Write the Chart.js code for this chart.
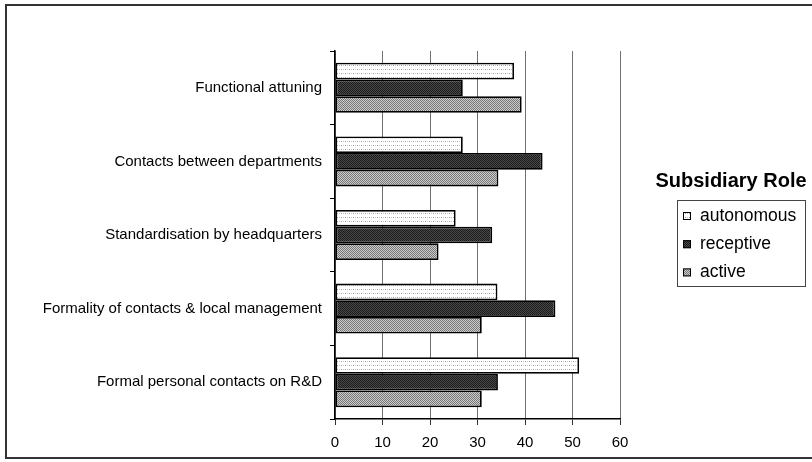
<!DOCTYPE html>
<html>
<head>
<meta charset="utf-8">
<script src="https://cdn.jsdelivr.net/npm/chart.js@4/dist/chart.umd.min.js"></script>
<style>
  html, body { margin: 0; padding: 0; background: #fff; }
  #wrap { position: relative; width: 812px; height: 462px; }
  #frame { position: absolute; left: 5px; top: 4px; width: 820px; height: 455px; border: 2px solid #333; box-sizing: border-box; pointer-events: none; }
</style>
</head>
<body>
<div id="wrap">
  <canvas id="c" width="812" height="462"></canvas>
  <div id="frame"></div>
</div>
<script>
const categories = [
  'Functional attuning',
  'Contacts between departments',
  'Standardisation by headquarters',
  'Formality of contacts & local management',
  'Formal personal contacts on R&D'
];
const seriesNames = ['autonomous', 'receptive', 'active'];
const autonomous = [37.7, 26.9, 25.4, 34.2, 51.4];
const receptive  = [26.9, 43.7, 33.1, 46.4, 34.3];
const active     = [39.3, 34.4, 21.8, 30.9, 30.9];
const xTicks = [0, 10, 20, 30, 40, 50, 60];
const legendTitle = 'Subsidiary Role';

function makePattern(size, bg, dots) {
  const p = document.createElement('canvas');
  p.width = size; p.height = size;
  const g = p.getContext('2d');
  g.fillStyle = bg; g.fillRect(0, 0, size, size);
  dots.forEach(d => { g.fillStyle = d[2]; g.fillRect(d[0], d[1], 1, 1); });
  return document.getElementById('c').getContext('2d').createPattern(p, 'repeat');
}
const patAuto = makePattern(4, '#ffffff', [[1, 1, '#9a9a9a'], [3, 1, '#c8c8c8']]);
const patRecep = makePattern(2, '#1a1a1a', [[1, 0, '#4a4a4a'], [0, 1, '#4a4a4a']]);
const patActive = makePattern(2, '#777777', [[1, 0, '#cccccc'], [0, 1, '#cccccc']]);
const fills = [patAuto, patRecep, patActive];

const legendPlugin = {
  id: 'customLegend',
  afterDraw(chart) {
    const ctx = chart.ctx;
    ctx.save();
    ctx.fillStyle = '#000';
    ctx.font = 'bold 20px "Liberation Sans", Arial, sans-serif';
    ctx.textAlign = 'center';
    ctx.textBaseline = 'middle';
    ctx.fillText(legendTitle, 731, 181);
    ctx.strokeStyle = '#444';
    ctx.lineWidth = 1;
    ctx.strokeRect(677.5, 200.5, 128, 86);
    ctx.font = '17.5px "Liberation Sans", Arial, sans-serif';
    ctx.textAlign = 'left';
    chart.data.datasets.forEach((ds, i) => {
      const y = 216 + i * 28.2;
      ctx.fillStyle = ds.backgroundColor;
      ctx.fillRect(683, y - 4, 8, 8);
      ctx.strokeStyle = '#000';
      ctx.lineWidth = 1;
      ctx.strokeRect(683.5, y - 3.5, 7, 7);
      ctx.fillStyle = '#000';
      ctx.fillText(ds.label, 700, y);
    });
    ctx.restore();
  }
};

const seriesData = [autonomous, receptive, active];
new Chart(document.getElementById('c'), {
  type: 'bar',
  data: {
    labels: categories,
    datasets: seriesNames.map((n, i) => ({
      label: n,
      data: seriesData[i],
      backgroundColor: fills[i],
      borderColor: '#000',
      borderWidth: 1.8,
      borderSkipped: false,
      barPercentage: 1.0,
      categoryPercentage: 0.68
    }))
  },
  options: {
    indexAxis: 'y',
    responsive: false,
    animation: false,
    devicePixelRatio: 1,
    layout: { padding: { left: 6, top: 51, right: 192, bottom: 0 } },
    plugins: { legend: { display: false }, tooltip: { enabled: false }, title: { display: false } },
    scales: {
      x: {
        min: 0, max: 60,
        afterBuildTicks(scale) { scale.ticks = xTicks.map(v => ({ value: v })); },
        afterFit(scale) { scale.height = 43; },
        grid: { color: '#707070', lineWidth: 1, tickLength: 6, tickColor: '#333', drawOnChartArea: true },
        border: { display: true, color: '#000', width: 1.5 },
        ticks: { color: '#000', padding: 9, font: { family: '"Liberation Sans", Arial, sans-serif', size: 15 } }
      },
      y: {
        afterFit(scale) { scale.width = 329; },
        grid: { drawOnChartArea: false, offset: true, tickLength: 5, tickColor: '#000', color: '#000' },
        border: { display: true, color: '#000', width: 1.5 },
        ticks: { color: '#000', padding: 8, font: { family: '"Liberation Sans", Arial, sans-serif', size: 15 } }
      }
    }
  },
  plugins: [legendPlugin]
});
</script>
</body>
</html>
